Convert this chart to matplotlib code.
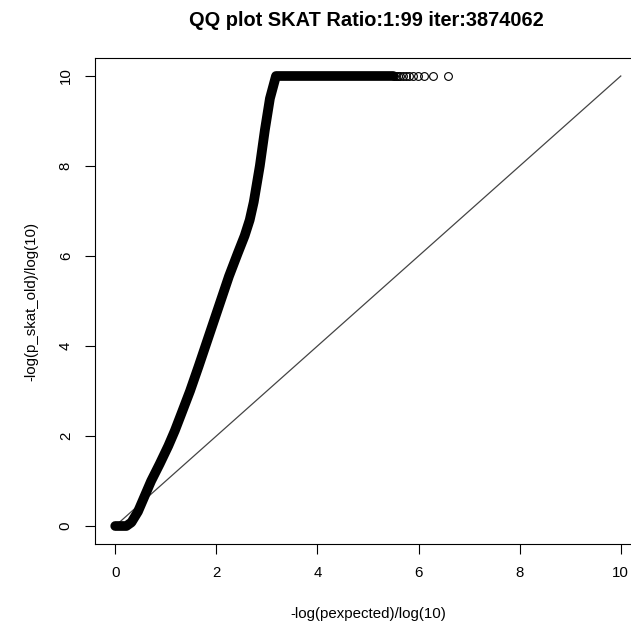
import matplotlib
matplotlib.use("Agg")
import matplotlib.pyplot as plt

plt.rcParams['font.family'] = ['Liberation Sans', 'DejaVu Sans']

# dense part of the QQ curve (observed vs expected -log10 p)
curve_x = [0.0, 0.22, 0.32, 0.45, 0.71, 0.88, 1.05, 1.18, 1.31, 1.48, 1.65, 1.80, 1.95, 2.10,
           2.25, 2.42, 2.56, 2.66, 2.74, 2.86, 2.96, 3.06, 3.18, 5.50]
curve_y = [0.0, 0.0, 0.08, 0.32, 1.00, 1.38, 1.78, 2.12, 2.50, 3.00, 3.55, 4.05, 4.55, 5.05,
           5.55, 6.05, 6.45, 6.80, 7.20, 8.00, 8.80, 9.50, 10.0, 10.0]

# sparse tail points at the top (expected = log10(n/k), n = 3874062)
tail_x = [6.588, 6.287, 6.111, 5.986, 5.889, 5.810, 5.743, 5.685, 5.634, 5.588, 5.547, 5.509]
tail_y = [10.0] * len(tail_x)

diag = [0, 10]
xticks = [0, 2, 4, 6, 8, 10]
yticks = [0, 2, 4, 6, 8, 10]

fig = plt.figure(figsize=(6.31, 6.27), dpi=100)
ax = fig.add_axes([95 / 631, 1 - 544 / 627, 546 / 631, 486 / 627])

ax.plot(diag, diag, color='#444444', lw=0.9)
ax.plot(curve_x, curve_y, color='black', lw=7.0, solid_joinstyle='round',
        solid_capstyle='round')
ax.plot(tail_x, tail_y, ls='none', marker='o', ms=5.6, mfc='none',
        mec='black', mew=0.8)

ax.set_xlim(-0.4, 10.4)
ax.set_ylim(-0.4, 10.4)
ax.set_xticks(xticks)
ax.set_yticks(yticks)
ax.tick_params(direction='out', length=7, width=0.8, labelsize=10.8, pad=9)
for lab in ax.get_yticklabels():
    lab.set_rotation(90)
    lab.set_va('center')
for s in ax.spines.values():
    s.set_linewidth(0.8)

ax.set_xlabel('-log(pexpected)/log(10)', fontsize=10.8, labelpad=19)
ax.set_ylabel('-log(p_skat_old)/log(10)', fontsize=10.8, labelpad=15)
fig.text(366 / 631, 1 - 20 / 627, 'QQ plot SKAT Ratio:1:99 iter:3874062',
         ha='center', va='center', fontsize=14.4, fontweight='bold')

fig.savefig('out.png', dpi=100)
